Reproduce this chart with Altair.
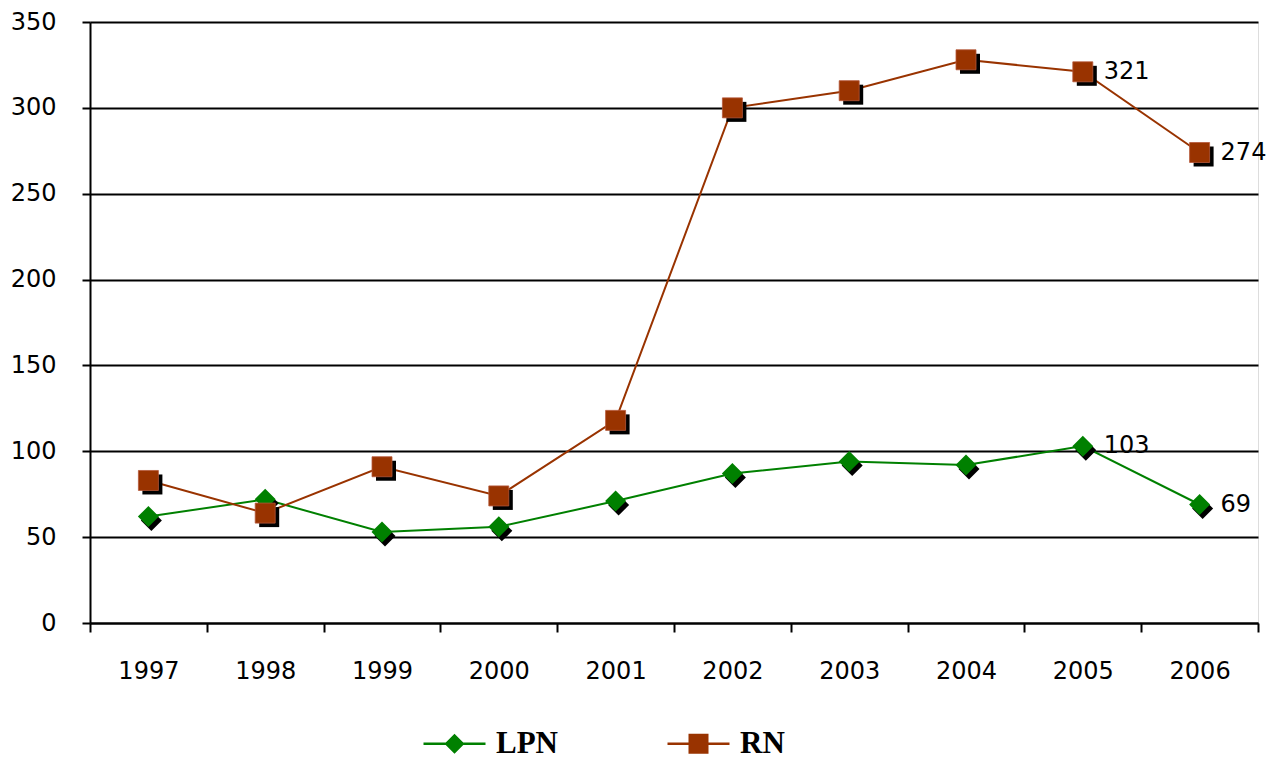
import altair as alt
import pandas as pd

years = ["1997", "1998", "1999", "2000", "2001", "2002", "2003", "2004", "2005", "2006"]
lpn = [62, 72, 53, 56, 71, 87, 94, 92, 103, 69]
rn = [83, 64, 91, 74, 118, 300, 310, 328, 321, 274]
series = ["LPN", "RN"]
labelled_years = ["2005", "2006"]

rows = []
for name, vals in zip(series, [lpn, rn]):
    for y, v in zip(years, vals):
        rows.append({"year": y, "value": v, "series": name})
df = pd.DataFrame(rows)

colors = ["#008000", "#993300"]
FONT = "DejaVu Sans"

x = alt.X("year:O", sort=years, title=None,
          scale=alt.Scale(type="band", paddingInner=0, paddingOuter=0),
          axis=alt.Axis(labelAngle=0, tickBand="extent", tickSize=9, tickWidth=2,
                        tickColor="black", domainColor="black", domainWidth=2,
                        labelFont=FONT, labelFontSize=24, labelColor="black",
                        labelPadding=27, grid=False))
y = alt.Y("value:Q", title=None,
          scale=alt.Scale(domain=[0, 350], nice=False),
          axis=alt.Axis(values=[0, 50, 100, 150, 200, 250, 300, 350], tickSize=8,
                        tickWidth=2, tickColor="black", domainColor="black",
                        domainWidth=2, gridColor="black", gridWidth=2,
                        labelFont=FONT, labelFontSize=24, labelColor="black",
                        labelPadding=26, grid=True))

# legend symbols: thin bar (the line) united with the marker, filled only
lpn_path = "M-3.1,-0.12H3.1V0.12H-3.1Z M-1,0L0,-1L1,0L0,1Z"
rn_path = "M-3.1,-0.12H3.1V0.12H-3.1Z M-1,-1L1,-1L1,1L-1,1Z"

leg = alt.Legend(
    title=None, orient="none", direction="horizontal",
    legendX=349, legendY=706,
    symbolSize=400, symbolStrokeWidth=0, symbolOpacity=1,
    labelFont="Liberation Serif", labelFontSize=31,
    labelFontWeight="bold", labelColor="black",
    labelOffset=26, columnPadding=109)

lpn_df = df[df.series == "LPN"]
rn_df = df[df.series == "RN"]

legend_layer = alt.Chart(df).transform_filter("false").mark_point(
    filled=True, size=400, opacity=1).encode(
    x=x, y=y,
    fill=alt.Fill("series:N", scale=alt.Scale(domain=series, range=colors), legend=leg),
    shape=alt.Shape("series:N", scale=alt.Scale(domain=series, range=[lpn_path, rn_path]), legend=leg),
)

lpn_line = alt.Chart(lpn_df).mark_line(strokeWidth=2, color=colors[0]).encode(x=x, y=y)
rn_line = alt.Chart(rn_df).mark_line(strokeWidth=2, color=colors[1]).encode(x=x, y=y)

lpn_shadow = alt.Chart(lpn_df).mark_point(shape="diamond", filled=True, size=441,
                                          color="black", opacity=1,
                                          xOffset=3, yOffset=4).encode(x=x, y=y)
rn_shadow = alt.Chart(rn_df).mark_point(shape="square", filled=True, size=400,
                                        color="black", opacity=1,
                                        xOffset=4, yOffset=4).encode(x=x, y=y)
lpn_pts = alt.Chart(lpn_df).mark_point(shape="diamond", filled=True, size=441,
                                       color=colors[0], opacity=1).encode(x=x, y=y)
rn_pts = alt.Chart(rn_df).mark_point(shape="square", filled=True, size=400,
                                     color=colors[1], opacity=1,
                                     stroke="#b5583a", strokeWidth=0.8).encode(x=x, y=y)

labels = alt.Chart(df).transform_filter(
    alt.FieldOneOfPredicate(field="year", oneOf=labelled_years)
).mark_text(align="left", baseline="middle", dx=21, font=FONT, fontSize=24,
            color="black").encode(x=x, y=y, text="value:Q")

chart = alt.layer(legend_layer, lpn_line, rn_line, lpn_shadow, rn_shadow,
                  lpn_pts, rn_pts, labels).properties(
    width=1168, height=601,
    autosize=alt.AutoSizeParams(type="none"),
    padding={"left": 82, "top": 14, "right": 8, "bottom": 137},
).configure_view(stroke=None).configure(background="white")

chart.save("out.html", embed_options={"renderer": "svg", "actions": False})
